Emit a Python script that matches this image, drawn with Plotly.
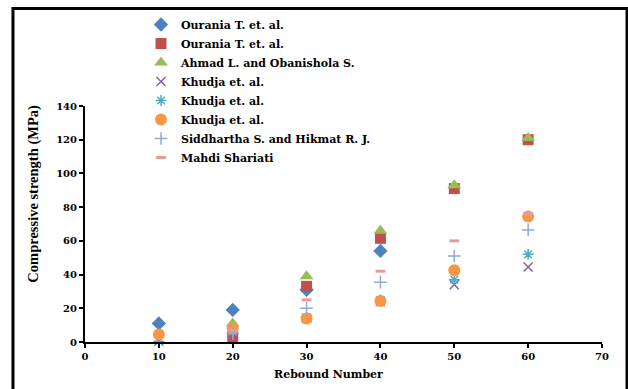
import plotly.graph_objects as go

# ---- data ----
names = [
    "Ourania T. et. al.",
    "Ourania T. et. al.",
    "Ahmad L. and Obanishola S.",
    "Khudja et. al.",
    "Khudja et. al.",
    "Khudja et. al.",
    "Siddhartha S. and Hikmat R. J.",
    "Mahdi Shariati",
]
x_ourania1 = [10, 20, 30, 40]
y_ourania1 = [11, 19, 31, 54]
x_ourania2 = [20, 30, 40, 50, 60]
y_ourania2 = [3, 33, 61.5, 91, 120]
x_ahmad = [20, 30, 40, 50, 60]
y_ahmad = [11, 39, 66, 93, 121]
x_khudja1 = [10, 20, 30, 40, 50, 60]
y_khudja1 = [0.5, 5, 14, 24, 34, 44.5]
x_khudja2 = [10, 20, 30, 40, 50, 60]
y_khudja2 = [0.5, 6, 14.5, 25, 37, 52]
x_khudja3 = [10, 20, 30, 40, 50, 60]
y_khudja3 = [4.5, 8, 14, 24.3, 42.5, 74.5]
x_sidd = [20, 30, 40, 50, 60]
y_sidd = [5, 20, 35.5, 51, 66.5]
x_mahdi = [20, 30, 40, 50, 60]
y_mahdi = [7, 25, 42, 60, 76]

xs = [x_ourania1, x_ourania2, x_ahmad, x_khudja1, x_khudja2, x_khudja3, x_sidd, x_mahdi]
ys = [y_ourania1, y_ourania2, y_ahmad, y_khudja1, y_khudja2, y_khudja3, y_sidd, y_mahdi]

symbols = ["diamond", "square", "triangle-up", "x-thin-open", "asterisk-open",
           "circle", "cross-thin-open", "line-ew-open"]
colors = ["#4F81BD", "#C0504D", "#9BBB59", "#8064A2", "#4BACC6",
          "#F79646", "#8EA9DB", "#E39C9B"]
sizes = [11, 11, 12, 9, 9, 12, 9, 7]
line_widths = [0, 0, 0, 1.5, 1.5, 0, 1.5, 3]

SERIF_WIDE = "DejaVu Serif, serif"
SERIF = "Liberation Serif, Times New Roman, serif"

fig = go.Figure()
for n, x, y, s, c, sz, lw in zip(names, xs, ys, symbols, colors, sizes, line_widths):
    fig.add_trace(go.Scatter(
        x=x, y=y, mode="markers", name=n, cliponaxis=False,
        marker=dict(symbol=s, color=c, size=sz,
                    line=dict(color=c, width=lw)),
    ))

# plot-area geometry in pixels (used for the frame around the chart)
W, H = 628, 389
L, R, T, B = 85, 26, 105, 47
pw, ph = W - L - R, H - T - B

def px(xp):
    return (xp - L) / pw

def py(yp):
    return (H - B - yp) / ph

frame_path = "M {:.4f},{:.4f} L {:.4f},{:.4f} L {:.4f},{:.4f} L {:.4f},{:.4f}".format(
    px(13), py(395), px(13), py(7), px(627), py(7), px(627), py(395))

tickfont = dict(family=SERIF_WIDE, size=10, color="black", weight="bold")

fig.update_layout(
    width=W, height=H,
    margin=dict(l=L, r=R, t=T, b=B, pad=0),
    paper_bgcolor="white", plot_bgcolor="white",
    font=dict(family=SERIF_WIDE, size=11, color="black", weight="bold"),
    showlegend=True,
    legend=dict(
        x=px(141), y=py(10), xanchor="left", yanchor="top",
        bgcolor="rgba(0,0,0,0)",
        font=dict(family=SERIF_WIDE, size=11, color="black", weight="bold"),
        itemwidth=30, tracegroupgap=0,
    ),
    xaxis=dict(
        range=[0, 70], dtick=10, tick0=0,
        showgrid=False, zeroline=False,
        showline=True, linecolor="black", linewidth=2,
        ticks="outside", ticklen=4, tickwidth=1.5, tickcolor="black",
        tickfont=tickfont,
    ),
    yaxis=dict(
        range=[0, 140], dtick=20, tick0=0,
        showgrid=False, zeroline=False,
        showline=True, linecolor="black", linewidth=2,
        ticks="outside", ticklen=4, tickwidth=1.5, tickcolor="black",
        tickfont=tickfont,
    ),
    shapes=[dict(type="path", xref="paper", yref="paper", path=frame_path,
                 line=dict(color="black", width=3))],
    annotations=[
        dict(text="Rebound Number", xref="paper", yref="paper",
             x=px(328), y=py(375), xanchor="center", yanchor="middle",
             showarrow=False,
             font=dict(family=SERIF_WIDE, size=11, color="black", weight="bold")),
        dict(text="Compressive strength (MPa)", xref="paper", yref="paper",
             x=px(34), y=py(193), xanchor="center", yanchor="middle",
             textangle=-90, showarrow=False,
             font=dict(family=SERIF, size=14.5, color="black", weight="bold")),
    ],
)

fig.write_html("out.html")
